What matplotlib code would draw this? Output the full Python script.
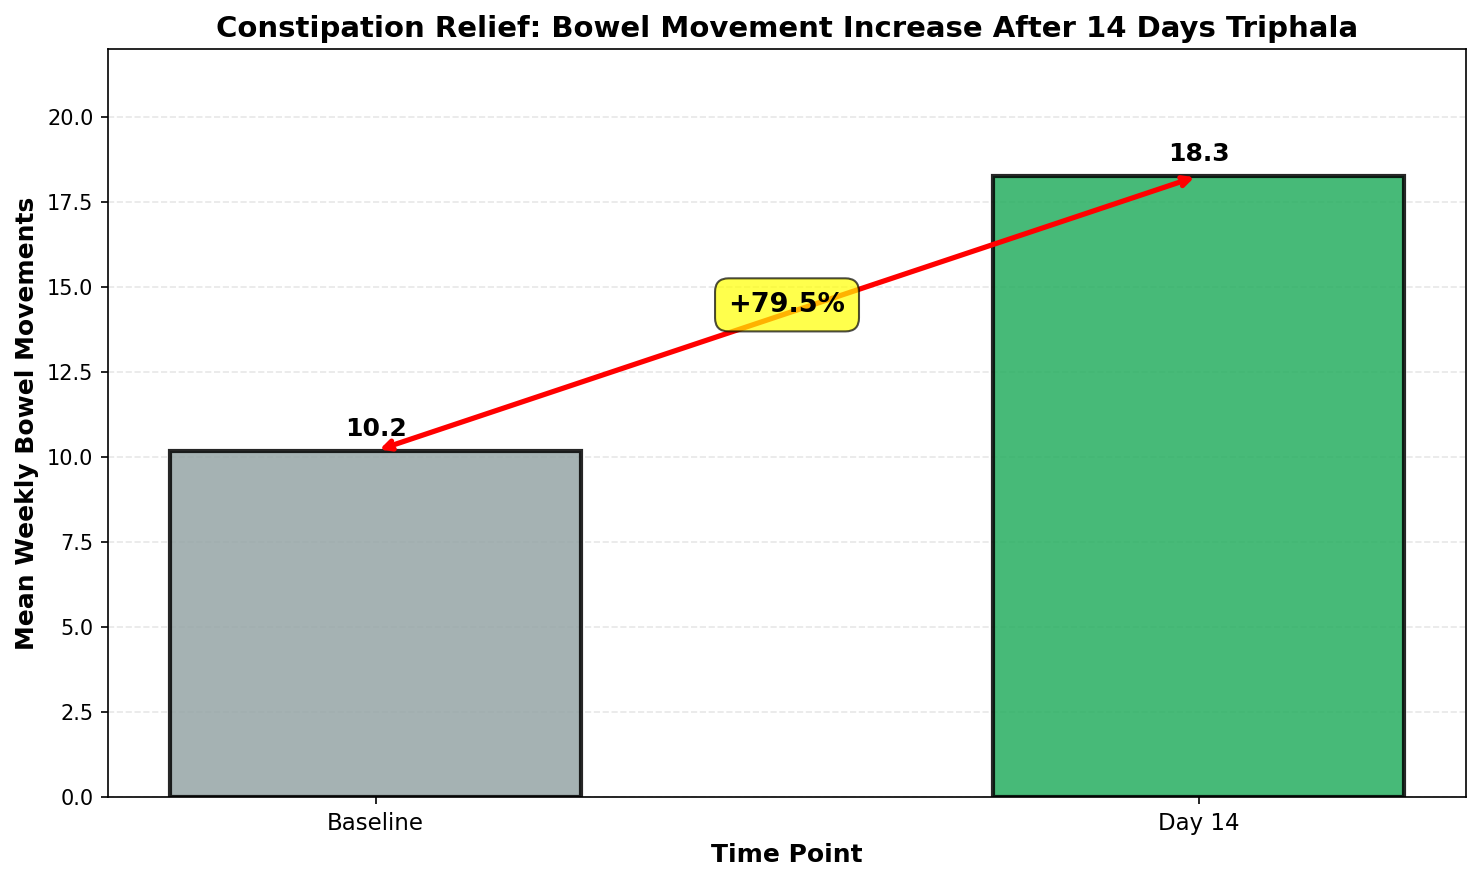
import matplotlib.pyplot as plt

# data
time_points = ['Baseline', 'Day 14']
weekly_bm = [10.18, 18.27]
bar_colors = ['#95a5a6', '#27ae60']
y_top = 22

pct_change = (weekly_bm[1] - weekly_bm[0]) / weekly_bm[0] * 100

fig, ax = plt.subplots(figsize=(9.88, 5.88), dpi=150)
fig.subplots_adjust(left=0.0729, right=0.9892, top=0.9444, bottom=0.0964)

x = range(len(time_points))
bars = ax.bar(x, weekly_bm, width=0.5, color=bar_colors, edgecolor='black',
              linewidth=2, alpha=0.85)

# value labels on top of bars
for xi, val in zip(x, weekly_bm):
    ax.text(xi, val + 0.3, f'{val:.1f}', ha='center', va='bottom',
            fontsize=12, fontweight='bold')

# arrow between bar tops
ax.annotate('', xy=(1, weekly_bm[1]), xytext=(0, weekly_bm[0]),
            arrowprops=dict(arrowstyle='<->', color='red', lw=2.5))
ax.text(0.5, (weekly_bm[0] + weekly_bm[1]) / 2 + 0.25, f'+{pct_change:.1f}%',
        ha='center', va='center', fontsize=13, fontweight='bold',
        bbox=dict(boxstyle='round,pad=0.5', facecolor='yellow', alpha=0.7,
                  edgecolor='black'))

ax.set_xticks(list(x))
ax.set_xticklabels(time_points, fontsize=11)
ax.tick_params(axis='y', labelsize=10)
ax.set_ylim(0, y_top)
ax.set_xlabel('Time Point', fontsize=12, fontweight='bold')
ax.set_ylabel('Mean Weekly Bowel Movements', fontsize=12, fontweight='bold')
ax.set_title('Constipation Relief: Bowel Movement Increase After 14 Days Triphala',
             fontsize=14, fontweight='bold')
ax.yaxis.grid(True, linestyle='--', alpha=0.3)
ax.set_axisbelow(True)

plt.savefig('out.png', dpi=150)
